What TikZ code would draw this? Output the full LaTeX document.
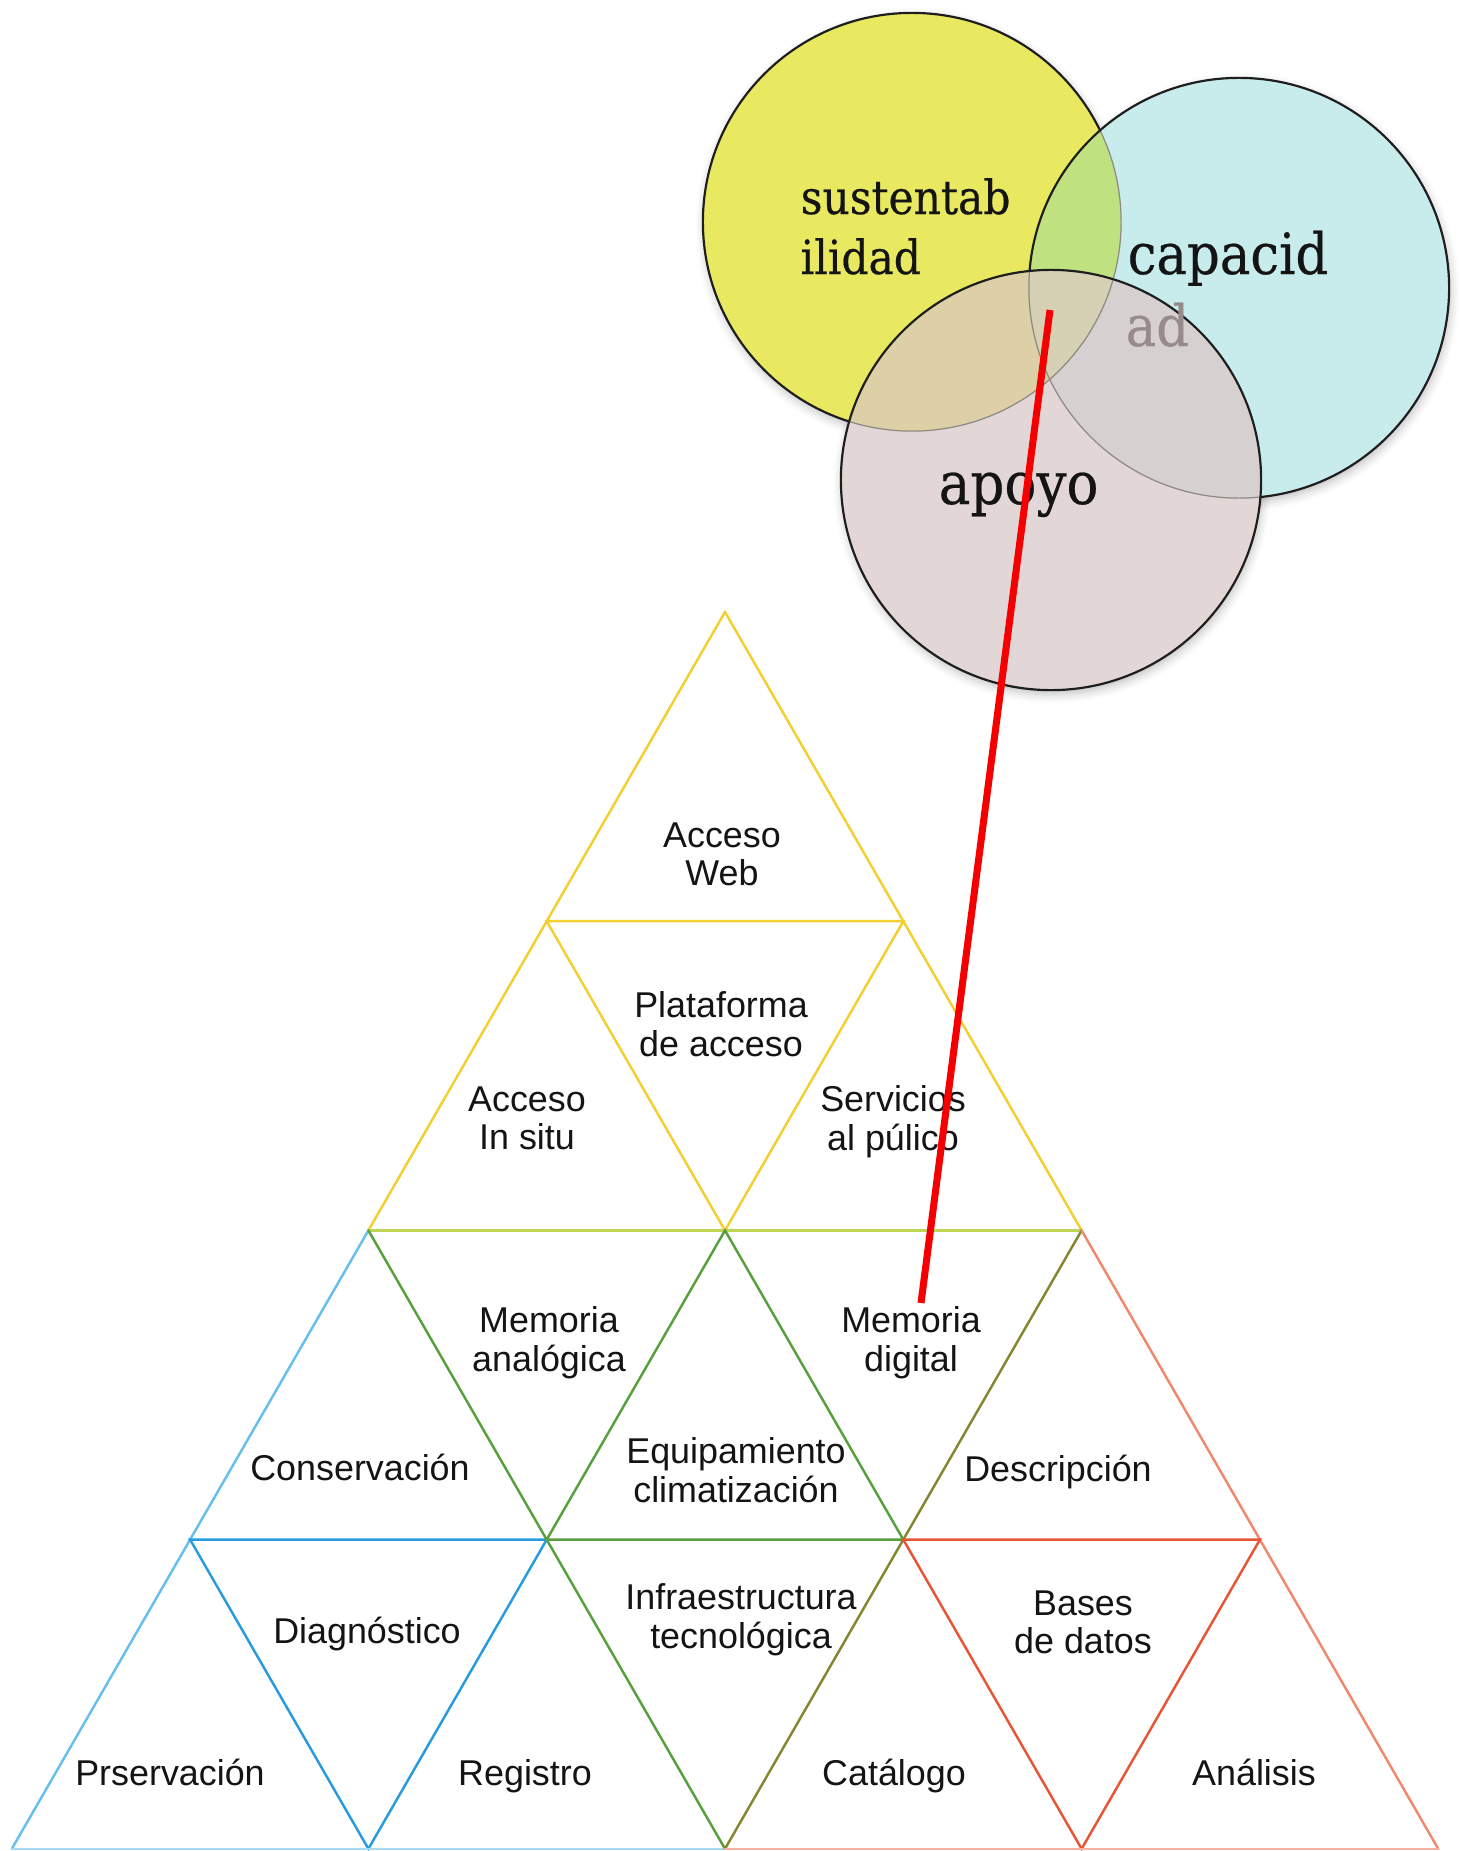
\documentclass[tikz,border=0pt]{standalone}
\usepackage{fontspec}
\setmainfont{Liberation Sans}
\newfontfamily\vennfont[FakeStretch=0.9,FakeBold=0.4]{DejaVu Serif}
\usetikzlibrary{shadows.blur}

% pyramid line colours
\definecolor{lnYellow}{RGB}{243,208,50}
\definecolor{lnYG}{RGB}{190,214,84}
\definecolor{lnGreen}{RGB}{88,160,62}
\definecolor{lnOlive}{RGB}{132,134,48}
\definecolor{lnBlueOut}{RGB}{104,190,236}
\definecolor{lnBlue}{RGB}{40,154,222}
\definecolor{lnSalmon}{RGB}{240,136,112}
\definecolor{lnRed}{RGB}{232,84,52}
\definecolor{lnBluePale}{RGB}{168,218,244}
\definecolor{lnSalmonPale}{RGB}{246,178,160}
% Venn colours
\definecolor{fY}{RGB}{232,233,96}
\definecolor{fC}{RGB}{200,236,236}
\definecolor{fP}{RGB}{226,215,214}
\definecolor{fYC}{RGB}{192,225,128}
\definecolor{fYP}{RGB}{221,207,166}
\definecolor{fCP}{RGB}{214,209,208}
\definecolor{fYCP}{RGB}{214,208,180}
\definecolor{ringC}{RGB}{30,30,30}
\definecolor{ringFaint}{RGB}{140,138,130}
\definecolor{txt}{RGB}{20,20,20}
\definecolor{txtFaint}{RGB}{150,138,138}
\definecolor{link}{RGB}{245,0,0}

\begin{document}
\begin{tikzpicture}[x=0.01cm, y=-0.01cm,
  edge/.style={line width=0.7pt, line cap=round},
  ring/.style={draw=ringC, line width=0.62pt},
  faintring/.style={draw=ringFaint, line width=0.35pt},
  lbl/.style={font=\fontsize{10.2}{11.0}\selectfont, align=center, text=txt,
    execute at begin node=\strut, execute at end node=\strut},
  vsmall/.style={font=\vennfont\fontsize{13.4}{16}\selectfont, text=txt, anchor=base west, inner sep=0pt},
  vbig/.style={font=\vennfont\fontsize{16.2}{19}\selectfont, text=txt, anchor=base west, inner sep=0pt},
  vshadow/.style={blur shadow={shadow xshift=0.4pt, shadow yshift=-1.2pt, shadow blur radius=2.5pt, shadow opacity=25}}
]
\useasboundingbox (0,0) rectangle (1461,1851);

% ---------- pyramid vertices (row, position) ----------
\coordinate (v00) at (725,612);
\coordinate (v10) at (546.7,921.2);  \coordinate (v11) at (903.3,921.2);
\coordinate (v20) at (368.4,1230.4); \coordinate (v21) at (725,1230.4);  \coordinate (v22) at (1081.6,1230.4);
\coordinate (v30) at (190.1,1539.6); \coordinate (v31) at (546.7,1539.6); \coordinate (v32) at (903.3,1539.6); \coordinate (v33) at (1259.9,1539.6);
\coordinate (v40) at (11.8,1848.8);  \coordinate (v41) at (368.4,1848.8); \coordinate (v42) at (725,1848.8);  \coordinate (v43) at (1081.6,1848.8); \coordinate (v44) at (1438.2,1848.8);

% top triangle (access)
\draw[edge, lnYellow] (v20) -- (v00) -- (v22);
\draw[edge, lnYellow] (v10) -- (v11) -- (v21) -- cycle;
\draw[edge, lnYG] (v20) -- (v22);
% left triangle (conservation)
\draw[edge, lnBlueOut] (v20) -- (v40);
\draw[edge, lnBlue] (v30) -- (v31) -- (v41) -- cycle;
\draw[edge, lnBluePale] (v40) -- (v42);
% central inverted triangle (memory)
\draw[edge, lnGreen] (v20) -- (v42);
\draw[edge, lnGreen] (v21) -- (v31) -- (v32) -- cycle;
\draw[edge, lnOlive] (v22) -- (v42);
% right triangle (description)
\draw[edge, lnSalmon] (v22) -- (v44);
\draw[edge, lnRed] (v32) -- (v33) -- (v43) -- cycle;
\draw[edge, lnSalmonPale] (v42) -- (v44);

% ---------- pyramid labels ----------
\node[lbl] (aweb)   at (722,860)  {Acceso\\Web};
\node[lbl] (plat)   at (721,1030) {Plataforma\\de acceso};
\node[lbl] (insitu) at (527,1124) {Acceso\\In situ};
\node[lbl] (serv)   at (893,1124) {Servicios\\al púlico};
\node[lbl] (manal)  at (549,1345) {Memoria\\analógica};
\node[lbl] (mdig)   at (911,1345) {Memoria\\digital};
\node[lbl] (cons)   at (360,1473) {Conservación};
\node[lbl] (equip)  at (736,1476) {Equipamiento\\climatización};
\node[lbl] (desc)   at (1058,1474) {Descripción};
\node[lbl] (diag)   at (367,1636) {Diagnóstico};
\node[lbl] (infra)  at (741,1622) {Infraestructura\\tecnológica};
\node[lbl] (bases)  at (1083,1628) {Bases\\de datos};
\node[lbl] (prs)    at (170,1778) {Prservación};
\node[lbl] (reg)    at (525,1778) {Registro};
\node[lbl] (cat)    at (894,1778) {Catálogo};
\node[lbl] (anal)   at (1254,1778) {Análisis};

% ---------- Venn diagram ----------
\coordinate (cY) at (912,222);
\coordinate (cC) at (1239,288);
\coordinate (cP) at (1051,480);
\def\rY{2.09cm}\def\rC{2.1cm}\def\rP{2.1cm}

\path[vshadow] (cY) circle[radius=\rY];
\path[vshadow] (cC) circle[radius=\rC];
\path[vshadow] (cP) circle[radius=\rP];

% sustainability
\fill[fY] (cY) circle[radius=\rY];
\draw[ring] (cY) circle[radius=\rY];
\node[vsmall] (sus1) at (800,214) {sustentab};
\node[vsmall] (sus2) at (800,274) {ilidad};

% capacity
\fill[fC] (cC) circle[radius=\rC];
\begin{scope}
  \clip (cY) circle[radius=\rY];
  \fill[fYC] (cC) circle[radius=\rC];
\end{scope}
\begin{scope}
  \clip (cC) circle[radius=\rC];
  \draw[faintring] (cY) circle[radius=\rY];
\end{scope}
\draw[ring] (cC) circle[radius=\rC];
\node[vbig] (cap1) at (1127,274) {capacid};

% support
\fill[fP] (cP) circle[radius=\rP];
\begin{scope}
  \clip (cY) circle[radius=\rY];
  \fill[fYP] (cP) circle[radius=\rP];
\end{scope}
\begin{scope}
  \clip (cC) circle[radius=\rC];
  \fill[fCP] (cP) circle[radius=\rP];
\end{scope}
\begin{scope}
  \clip (cY) circle[radius=\rY];
  \clip (cC) circle[radius=\rC];
  \fill[fYCP] (cP) circle[radius=\rP];
\end{scope}
\begin{scope}
  \clip (cP) circle[radius=\rP];
  \draw[faintring] (cY) circle[radius=\rY];
  \draw[faintring] (cC) circle[radius=\rC];
\end{scope}
\draw[ring] (cP) circle[radius=\rP];
\node[vbig, text=txtFaint] (cap2) at (1125,346) {ad};
\node[vbig, font=\vennfont\fontsize{16.8}{19}\selectfont] (apo) at (938,504) {apoyo};

% ---------- link from the Venn core to the digital memory ----------
\coordinate (linkTop) at (1050,310);
\coordinate (linkEnd) at (921,1303);
\draw[link, line width=2pt] (linkTop) -- (linkEnd);
\end{tikzpicture}
\end{document}
